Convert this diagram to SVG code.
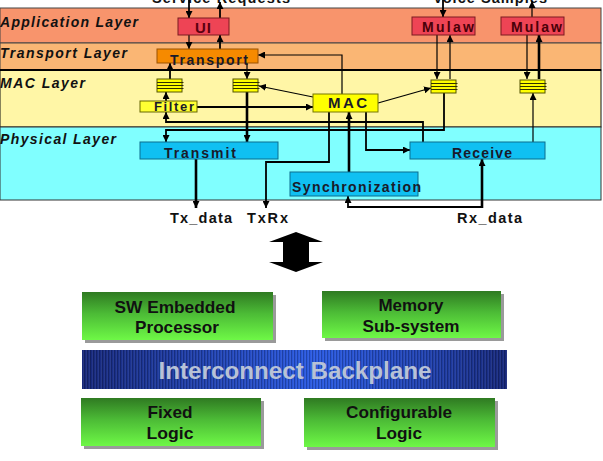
<svg xmlns="http://www.w3.org/2000/svg" width="603" height="461" viewBox="0 0 603 461">
<defs>
<marker id="ah" viewBox="0 0 10 10" refX="10" refY="5" markerWidth="7" markerHeight="7" markerUnits="userSpaceOnUse" orient="auto"><path d="M0,0 L10,5 L0,10 z" fill="#000"/></marker>
<linearGradient id="green" x1="0" y1="0" x2="0" y2="1">
<stop offset="0" stop-color="#2f7a22"/><stop offset="0.45" stop-color="#4cbb36"/><stop offset="1" stop-color="#6ef846"/>
</linearGradient>
<linearGradient id="blue" x1="0" y1="0" x2="1" y2="0">
<stop offset="0" stop-color="#17287a"/><stop offset="0.3" stop-color="#2143b2"/><stop offset="0.55" stop-color="#2a5ae2"/><stop offset="0.8" stop-color="#2143b2"/><stop offset="1" stop-color="#17287a"/>
</linearGradient>
<pattern id="stripes" width="3" height="10" patternUnits="userSpaceOnUse"><rect x="0" y="0" width="1" height="10" fill="#000" fill-opacity="0.22"/><rect x="2" y="0" width="0.6" height="10" fill="#fff" fill-opacity="0.1"/></pattern>
<g id="fifo"><rect x="0" y="0" width="25" height="13" fill="#ffff00" stroke="#555500" stroke-width="1"/><path d="M0,3.5 H26.5 M0,6.5 H26.5 M0,9.5 H26.5" stroke="#333300" stroke-width="1"/></g>
</defs>
<style>
.lbl{font-family:"Liberation Sans",Arial,sans-serif;font-weight:bold;font-style:italic;font-size:14px;fill:#111}
.bt{font-family:"Liberation Sans",Arial,sans-serif;font-weight:bold;font-size:14px;fill:#1a1a2a}
.io{font-family:"Liberation Sans",Arial,sans-serif;font-weight:bold;font-size:14.5px;fill:#111}
.gt{font-family:"Liberation Sans",Arial,sans-serif;font-weight:bold;font-size:17px;fill:#111;text-anchor:middle}
.c{fill:none;stroke:#000;marker-end:url(#ah)}
.thin{stroke-width:1.2}
.med{stroke-width:1.8}
.thick{stroke-width:2.6}
.blu{fill:#10c0f2;stroke:#0a6f90;stroke-width:1}
</style>
<rect width="603" height="461" fill="#fff"/>
<g id="layers">
<rect x="0" y="8" width="601" height="35" fill="#f8946c" stroke="#444" stroke-width="1"/>
<rect x="0" y="43" width="601" height="27" fill="#fab674" stroke="#444" stroke-width="1"/>
<rect x="0" y="70" width="601" height="57" fill="#fff6a6" stroke="#111" stroke-width="1"/>
<rect x="0" y="127" width="601" height="73" fill="#80ffff" stroke="#333" stroke-width="1"/>
<line x1="0" y1="70" x2="601" y2="70" stroke="#000" stroke-width="2"/>
<text class="lbl" x="0" y="27" textLength="138" lengthAdjust="spacing">Application Layer</text>
<text class="lbl" x="0" y="58" textLength="127" lengthAdjust="spacing">Transport Layer</text>
<text class="lbl" x="0" y="88" textLength="85" lengthAdjust="spacing">MAC Layer</text>
<text class="lbl" x="0" y="144" textLength="116" lengthAdjust="spacing">Physical Layer</text>
</g>
<g id="io-labels">
<text class="io" x="152" y="3" textLength="138" lengthAdjust="spacing">Service Requests</text>
<text class="io" x="433" y="3" textLength="114" lengthAdjust="spacing">Voice Samples</text>
<text class="io" x="170" y="223" textLength="62" lengthAdjust="spacing">Tx_data</text>
<text class="io" x="247" y="223" textLength="41" lengthAdjust="spacing">TxRx</text>
<text class="io" x="457" y="223" textLength="65" lengthAdjust="spacing">Rx_data</text>
</g>
<g id="connectors">
<path class="c med" d="M189,0 V18"/>
<path class="c med" d="M220,18 V2"/>
<path class="c thin" d="M189,35 V49"/>
<path class="c med" d="M220,49 V35"/>
<path class="c thin" d="M342,94 V55 H258"/>
<path class="c med" d="M170,79 V63"/>
<path class="c thin" d="M247,63 V79"/>
<path class="c med" d="M166,101 V92"/>
<path class="c thin" d="M313,97 L259,86"/>
<path class="c med" d="M197,107 H313"/>
<path class="c thick" d="M247,92 V142"/>
<path class="c med" d="M423,142 V122 H166 V112"/>
<path class="c med" d="M444,93 V130 H166 V142"/>
<path class="c thick" d="M196,159 V208"/>
<path class="c med" d="M329,112 V162 H266 V208"/>
<path class="c thick" d="M349,172 V112"/>
<path class="c med" d="M366,112 V150 H410"/>
<path class="c thick" d="M482,208 V159"/>
<path class="c med" d="M482,207 H348 V196"/>
<path class="c thin" d="M437,35 V79"/>
<path class="c thin" d="M450,79 V35"/>
<path class="c med" d="M443,0 V17"/>
<path class="c thin" d="M532,17 V1"/>
<path class="c thin" d="M527,35 V79"/>
<path class="c thick" d="M539,79 V35"/>
<path class="c thin" d="M378,103 L431,88"/>
<path class="c thin" d="M533,142 V93"/>
</g>
<g id="ui"><rect x="178" y="18" width="51" height="17" fill="#ee4455" stroke="#7a1a20" stroke-width="1"/><text class="bt" x="195" y="33" style="fill:#5a0010;font-size:15px" textLength="16" lengthAdjust="spacing">UI</text></g>
<g id="mulaw1"><rect x="412" y="17" width="63" height="18" fill="#ee4455" stroke="#7a1a20" stroke-width="1"/><text class="bt" x="422" y="32" style="fill:#4a0008" textLength="52" lengthAdjust="spacing">Mulaw</text></g>
<g id="mulaw2"><rect x="501" y="17" width="63" height="18" fill="#ee4455" stroke="#7a1a20" stroke-width="1"/><text class="bt" x="511" y="32" style="fill:#4a0008" textLength="51" lengthAdjust="spacing">Mulaw</text></g>
<g id="transport"><rect x="157" y="49" width="101" height="14" fill="#f68a00" stroke="#9a5000" stroke-width="1"/><text class="bt" x="170" y="65" textLength="78" lengthAdjust="spacing">Transport</text></g>
<g id="fifo1"><use href="#fifo" x="157" y="79"/></g>
<g id="fifo2"><use href="#fifo" x="233" y="79"/></g>
<g id="fifo3"><use href="#fifo" x="431" y="80"/></g>
<g id="fifo4"><use href="#fifo" x="520" y="80"/></g>
<g id="filter"><rect x="140" y="101" width="57" height="11" fill="#ffff33" stroke="#666600" stroke-width="1"/><text class="bt" x="154" y="111" style="font-size:13px" textLength="40" lengthAdjust="spacing">Filter</text></g>
<g id="mac"><rect x="313" y="94" width="65" height="18" fill="#ffff00" stroke="#777700" stroke-width="1"/><text class="bt" x="328" y="108" style="font-size:15px" textLength="39" lengthAdjust="spacing">MAC</text></g>
<g id="transmit"><rect class="blu" x="140" y="142" width="138" height="17"/><text class="bt" x="164" y="158" textLength="72" lengthAdjust="spacing">Transmit</text></g>
<g id="receive"><rect class="blu" x="410" y="142" width="135" height="17"/><text class="bt" x="452" y="158" textLength="60" lengthAdjust="spacing">Receive</text></g>
<g id="synchronization"><rect class="blu" x="290" y="172" width="128" height="24"/><text class="bt" x="292" y="192" textLength="129" lengthAdjust="spacing">Synchronization</text></g>
<g id="bigarrow"><polygon points="296,232 323,242 309,242 309,262 323,262 296,272 269,262 283,262 283,242 269,242" fill="#000"/></g>
<g id="sw-processor"><rect x="85" y="295" width="191" height="48" fill="#9a9a9a"/><rect x="82" y="292" width="191" height="48" fill="url(#green)"/><text class="gt" x="175" y="313" textLength="121" lengthAdjust="spacingAndGlyphs">SW Embedded</text><text class="gt" x="177" y="333" textLength="84" lengthAdjust="spacingAndGlyphs">Processor</text></g>
<g id="memory"><rect x="325" y="294" width="179" height="47" fill="#9a9a9a"/><rect x="322" y="291" width="179" height="47" fill="url(#green)"/><text class="gt" x="411" y="311" textLength="65" lengthAdjust="spacingAndGlyphs">Memory</text><text class="gt" x="411" y="332" textLength="97" lengthAdjust="spacingAndGlyphs">Sub-system</text></g>
<g id="backplane"><rect x="82" y="350" width="425" height="39" fill="url(#blue)"/><rect x="82" y="350" width="425" height="39" fill="url(#stripes)"/><text x="295" y="379" text-anchor="middle" style="font-family:'Liberation Sans',Arial,sans-serif;font-weight:bold;font-size:24px;fill:#b8c2d6" textLength="273" lengthAdjust="spacingAndGlyphs">Interconnect Backplane</text></g>
<g id="fixed-logic"><rect x="84" y="401" width="180" height="48" fill="#9a9a9a"/><rect x="81" y="398" width="180" height="48" fill="url(#green)"/><text class="gt" x="170" y="418" textLength="45" lengthAdjust="spacingAndGlyphs">Fixed</text><text class="gt" x="170" y="439" textLength="47" lengthAdjust="spacingAndGlyphs">Logic</text></g>
<g id="configurable-logic"><rect x="307" y="401" width="191" height="49" fill="#9a9a9a"/><rect x="304" y="398" width="191" height="49" fill="url(#green)"/><text class="gt" x="399" y="418" textLength="106" lengthAdjust="spacingAndGlyphs">Configurable</text><text class="gt" x="399" y="439" textLength="46" lengthAdjust="spacingAndGlyphs">Logic</text></g>
</svg>
